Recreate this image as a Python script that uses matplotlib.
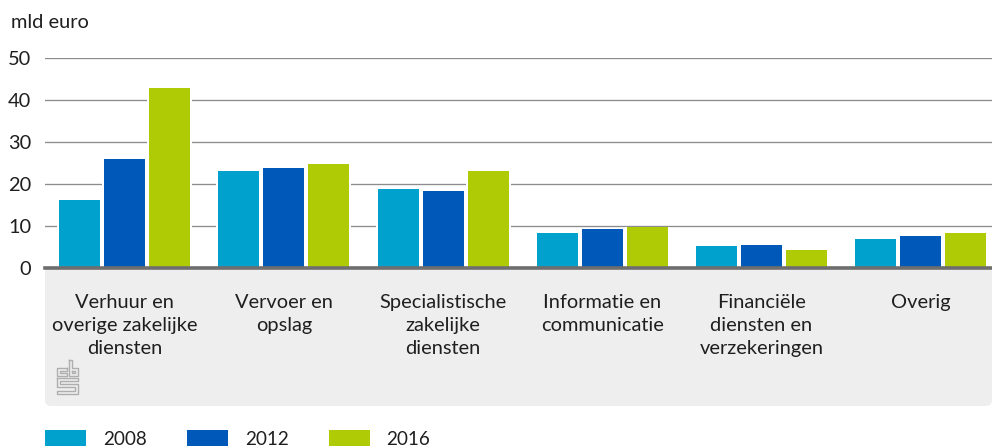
import matplotlib
matplotlib.use("Agg")
import matplotlib.pyplot as plt
import numpy as np
from matplotlib.patches import FancyBboxPatch
from matplotlib.lines import Line2D
from matplotlib.transforms import Affine2D

categories = ["Verhuur en\noverige zakelijke\ndiensten", "Vervoer en\nopslag",
              "Specialistische\nzakelijke\ndiensten", "Informatie en\ncommunicatie",
              "Financiële\ndiensten en\nverzekeringen", "Overig"]
v2008 = [16.3, 23.1, 18.9, 8.4, 5.2, 6.8]
v2012 = [26.0, 23.8, 18.4, 9.2, 5.4, 7.6]
v2016 = [42.9, 24.8, 23.2, 9.8, 4.4, 8.3]
yticks = [0, 10, 20, 30, 40, 50]
series = [("2008", v2008, "#00a1cd"), ("2012", v2012, "#0058b8"), ("2016", v2016, "#afcb05")]

W, H = 992, 446
plt.rcParams['font.family'] = ['Lato', 'DejaVu Sans']
FS = 14.4
LFS = 13.6
TEXT = "#1f1f1f"
fig = plt.figure(figsize=(W/100, H/100), dpi=100)
px = Affine2D().scale(1, -1).translate(0, H)  # pixel coords, y down

# grey band
band = FancyBboxPatch((47, 268), 943, 136, boxstyle="round,pad=2,rounding_size=6",
                      transform=px, fc="#eeeeee", ec="none", zorder=0)
fig.add_artist(band)

ax = fig.add_axes([45/W, 1-268/H, (W-45)/W, 210/H], facecolor="none")
pitch = 159.2
ax.set_xlim(-0.5, (W-45)/pitch-0.5)
ax.set_ylim(0, 50)
step = 45.0/pitch
bw = 41.0/pitch
x = np.arange(len(categories))
for i, (name, vals, c) in enumerate(series):
    ax.bar(x+(i-1)*step, vals, width=step, color="white", linewidth=0, zorder=1.5)
    ax.bar(x+(i-1)*step, vals, width=bw, color=c, linewidth=0, label=name, zorder=2)
ax.set_yticks(yticks)
ax.set_xticks(x, categories)
ax.grid(axis="y", color="#8c8c8c", lw=0.95, zorder=1)
ax.set_axisbelow(True)
for s in ["top", "left", "right"]:
    ax.spines[s].set_visible(False)
ax.spines["bottom"].set_color("#6e6e6e")
ax.spines["bottom"].set_linewidth(2.6)
ax.spines["bottom"].set_zorder(3)
ax.tick_params(axis="y", length=0, pad=10, labelsize=FS, labelcolor=TEXT)
ax.tick_params(axis="x", length=0, pad=18.5, labelsize=FS, labelcolor=TEXT)
for t in ax.get_xticklabels():
    t.set_linespacing(1.43)
fig.text(11/W, 1-23/H, "mld euro", fontsize=FS, color=TEXT, va="center", ha="left")

# logo
logo = [
    [(67, 368), (57, 368), (57, 376), (67, 376), (67, 373), (60, 373), (60, 371), (67, 371), (67, 368)],
    [(69, 360), (72, 360), (72, 368), (78, 368), (78, 376), (69, 376), (69, 360)],
    [(72, 371), (75, 371), (75, 373), (72, 373), (72, 371)],
    [(57, 378), (78, 378), (78, 381), (60, 381), (60, 384), (78, 384), (78, 394), (57, 394),
     (57, 391), (75, 391), (75, 387), (57, 387), (57, 378)],
]
for seg in logo:
    xs, ys = zip(*seg)
    fig.add_artist(Line2D(xs, ys, transform=px, color="#aeaeae", lw=1.0, zorder=1))

# legend
h, l = ax.get_legend_handles_labels()
u = LFS*100/72
fig.legend(h, l, loc="lower left", bbox_to_anchor=(45/W, -2/H), ncol=3, frameon=False,
           fontsize=LFS, borderpad=0, borderaxespad=0, handlelength=41/u, handleheight=0.93,
           handletextpad=17/u, columnspacing=40/u, labelcolor=TEXT)
fig.savefig("out.png", dpi=100)
